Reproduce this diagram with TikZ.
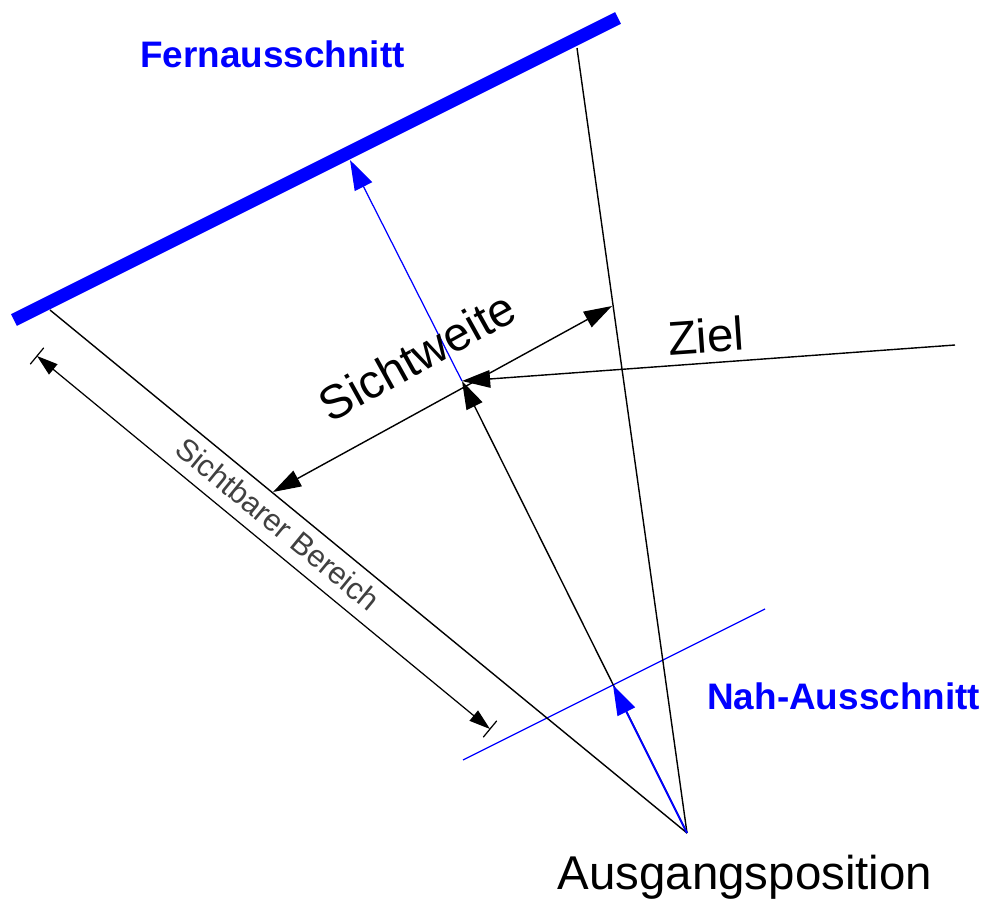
\documentclass[tikz,border=0pt]{standalone}
\usepackage{fontspec}
\setmainfont{Liberation Sans}
\usetikzlibrary{arrows.meta,calc}
\tikzset{
  lbl/.style={inner sep=0pt, font=\fontsize{27}{31}\selectfont},
  klabel/.style={inner sep=0pt, text=blue, font=\fontsize{21}{25}\selectfont\bfseries},
  kdim/.style={inner sep=0pt, text=black!75, font=\fontsize{17.5}{20}\selectfont},
  ray/.style={line width=0.8pt},
  bray/.style={line width=0.7pt, draw=blue},
  flow/.style={-{Triangle[length=16pt,width=10pt]}, line width=0.8pt},
  bflow/.style={-{Triangle[length=17pt,width=11pt]}, draw=blue, fill=blue},
  dimflow/.style={{Triangle[length=12pt,width=7.5pt]}-{Triangle[length=12pt,width=7.5pt]}, line width=0.7pt},
}

\begin{document}
\begin{tikzpicture}[x=0.02cm, y=-0.02cm]
    \useasboundingbox (0,0) rectangle (987,906);
    % points
    \coordinate (eye) at (687,833);
    \coordinate (farL) at (14,320);
    \coordinate (farR) at (618,18);
    \coordinate (edgeL) at (50,310);
    \coordinate (edgeR) at (577,48);
    \coordinate (target) at (462,381);
    \coordinate (farHit) at (350,160);
    \coordinate (nearHit) at (613,685);
    \coordinate (nearL) at (463,760);
    \coordinate (nearR) at (765,609);
    \coordinate (zielEnd) at (955,345);
    \coordinate (swL) at (273,492);
    \coordinate (swR) at (612,306);
    \coordinate (sbA) at (37,356);
    \coordinate (sbB) at (490,729);
    % planes and frustum
    \draw[blue, line width=7.5pt] (farL) -- (farR);
    \draw[bray] (nearL) -- (nearR);
    \draw[ray] (edgeL) -- (eye);
    \draw[ray] (edgeR) -- (eye);
    % view direction
    \draw[flow] (eye) -- (target);
    \draw[bflow, line width=0.7pt] (target) -- (farHit);
    \draw[bflow, line width=1.1pt] (eye) -- (nearHit);
    \draw[flow] (zielEnd) -- (target);
    \draw[flow, {Triangle[length=16pt,width=10pt]}-{Triangle[length=16pt,width=10pt]}] (swL) -- (swR);
    % dimension
    \draw[dimflow] (sbA) -- (sbB);
    \draw[line width=0.7pt] ($(sbA)!6pt!90:(sbB)$) -- ($(sbA)!6pt!-90:(sbB)$);
    \draw[line width=0.7pt] ($(sbB)!6pt!90:(sbA)$) -- ($(sbB)!6pt!-90:(sbA)$);
    % labels
    \node[klabel, anchor=base west] (fern) at (140,67) {Fernausschnitt};
    \node[klabel, anchor=base west] (nah) at (707,709) {Nah-Ausschnitt};
    \node[lbl, anchor=base] (start) at (745,889) {Ausgangsposition};
    \node[lbl, rotate=4] (ziel) at (706,336) {Ziel};
    \node[lbl, rotate=29] (weite) at (417,356) {Sichtweite};
    \node[kdim, rotate=-39.4] (bereich) at (278,524) {Sichtbarer Bereich};
\end{tikzpicture}
\end{document}
